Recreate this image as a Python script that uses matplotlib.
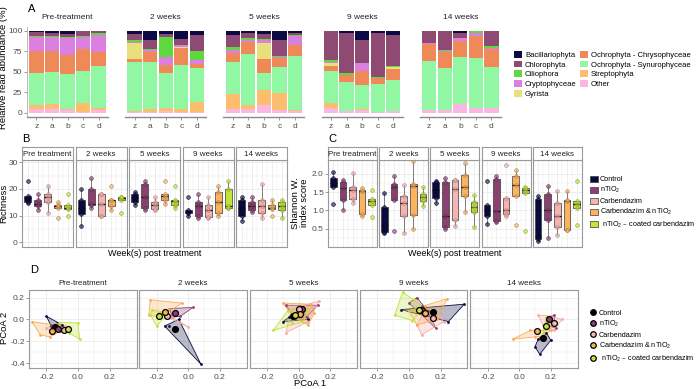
import matplotlib.pyplot as plt
from matplotlib.patches import Patch, Polygon
from matplotlib.lines import Line2D
from matplotlib.colors import to_rgba
import numpy as np

plt.rcParams['font.family'] = ['Liberation Sans', 'DejaVu Sans']
plt.rcParams['mathtext.default'] = 'regular'

W, H = 697, 389

# ---------- data: panel A (relative read abundance, %) ----------
weeks_a = ['Pre-treatment', '2 weeks', '5 weeks', '9 weeks', '14 weeks']
samples = ['z', 'a', 'b', 'c', 'd']
# 25 values each: 5 samples for every week, in weeks_a order
other = [5, 5, 4, 1.5, 3, 0.5, 0.5, 2, 0.5, 0.5, 5, 5, 9, 4, 2, 5.5, 2, 4, 1.5, 2.5, 4, 4, 11, 6.5, 6.5]
streptophyta = [4, 5.5, 1, 10.5, 3, 2, 4.5, 4, 4, 13, 17.5, 4, 18.5, 20.5, 2, 6.5, 0.5, 0.5, 0, 0, 0, 0, 0, 0, 0]
synurophyceae = [40, 39, 42, 39.5, 50.5, 59.5, 57, 42.5, 54, 40.5, 39.5, 63, 21.5, 31, 65,
                 39, 35, 29.5, 34, 38, 58.5, 50.5, 57, 60, 49]
chrysophyceae = [26, 26, 23.5, 26.5, 18, 3.5, 12, 10, 20, 6, 11, 14, 16, 11.5, 13.5,
                 6, 8.5, 16.5, 7.5, 12.5, 21.5, 20, 19, 27.5, 22.5]
gyrista = [0, 0, 0, 0, 0, 19, 0, 0, 1, 0, 0, 0, 20, 0, 0, 3.5, 0, 0, 0, 2.5, 0, 0, 0, 0, 0]
cryptophyceae = [17, 16.5, 20.5, 14, 20.5, 1.5, 2.5, 9.5, 2.5, 4, 4, 2.5, 4, 0.5, 11.5,
                 1.5, 0.5, 10, 0, 0, 0.5, 0.5, 4, 3, 1]
ciliophora = [2, 1, 1.5, 1, 2, 2, 1.5, 24, 0.5, 11, 3.5, 2.5, 1, 1.5, 1, 2, 2.5, 0, 1, 1.5, 0.5, 2, 0, 2, 2.5]
chlorophyta = [4, 4, 3.5, 6, 2, 8, 11, 4, 7.5, 20, 14, 6, 6, 19, 2, 35, 48, 27.5, 53, 38, 14, 22, 6, 0.5, 17.5]
bacillariophyta = [2, 3, 4, 1, 1, 4, 11, 4, 10, 5, 5.5, 3, 4, 12, 3, 1, 3, 12, 3, 5, 1, 1, 3, 0.5, 1]

taxa = ['Bacillariophyta', 'Chlorophyta', 'Ciliophora', 'Cryptophyceae', 'Gyrista',
        'Ochrophyta - Chrysophyceae', 'Ochrophyta - Synurophyceae', 'Streptophyta', 'Other']
taxa_vals = [bacillariophyta, chlorophyta, ciliophora, cryptophyceae, gyrista,
             chrysophyceae, synurophyceae, streptophyta, other]
taxa_cols = ['#0b0a45', '#8e4a72', '#5fd83f', '#db7fe0', '#e8e07a',
             '#ef8a58', '#91f7a2', '#fdbd6f', '#fbb6e4']

# ---------- data: panels B / C (5 replicates per group) ----------
weeks_b = ['Pre treatment', '2 weeks', '5 weeks', '9 weeks', '14 weeks']
treatments = ['Control', 'nTiO$_2$', 'Carbendazim', 'Carbendazim & nTiO$_2$', ' nTiO$_2$ – coated carbendazim']
treat_cols = ['#0b0a3f', '#8b4170', '#f7b3b0', '#fbb35e', '#c3e43a']

rich_control = [[14.8, 15, 16.8, 17.5, 23], [6, 10.5, 13, 16, 20], [14, 15, 16.5, 18, 19],
                [10, 11, 11.5, 12, 17], [8, 10, 13, 16, 17]]
rich_ntio2 = [[12, 13.5, 14.5, 16, 18], [13, 14, 14.5, 20, 24], [12, 13, 17, 22, 23],
              [9, 10, 13.5, 15, 18], [11.5, 12, 13.5, 15, 17]]
rich_carb = [[11, 15, 17, 18, 21], [10, 10, 14.5, 18, 18], [12, 12.5, 14, 15, 17],
             [9, 9.5, 12, 14, 17], [9, 11, 13.5, 16, 22]]
rich_carb_ntio2 = [[9, 12.8, 13.5, 14, 15], [12, 13.5, 15.8, 16, 21], [14.5, 16, 17.5, 18, 23],
                   [10, 11, 15, 19, 21], [10, 12.5, 13, 14, 16]]
rich_coated = [[10, 12.5, 13, 14, 18], [11, 16, 16.5, 17, 17], [13, 14, 15.5, 16, 21],
               [13, 13, 13.5, 20, 23], [9, 12, 13.5, 15, 16]]

shan_control = [[1.18, 1.65, 1.75, 1.9, 2.05], [0.38, 0.42, 0.6, 1.1, 1.48], [1.2, 1.35, 1.55, 1.78, 1.8],
                [0.63, 0.85, 1.0, 1.15, 1.8], [0.17, 0.22, 0.3, 1.32, 1.4]]
shan_ntio2 = [[1.0, 1.28, 1.62, 1.78, 1.82], [0.45, 1.28, 1.65, 1.72, 1.95], [0.5, 0.55, 0.85, 1.78, 1.88],
              [0.68, 0.7, 0.98, 1.86, 1.95], [0.24, 0.75, 1.0, 1.44, 1.68]]
shan_carb = [[1.2, 1.32, 1.55, 1.65, 2.02], [0.38, 0.85, 1.2, 1.4, 1.7], [0.57, 0.75, 1.58, 1.82, 1.84],
             [0.85, 0.89, 1.0, 1.33, 2.23], [0.33, 0.56, 0.86, 1.19, 1.52]]
shan_carb_ntio2 = [[0.85, 0.9, 1.53, 1.55, 1.62], [0.5, 0.88, 1.68, 1.72, 2.35], [0.95, 1.4, 1.65, 1.97, 2.3],
                   [0.59, 1.4, 1.7, 1.93, 2.11], [0.47, 0.47, 1.26, 1.28, 1.54]]
shan_coated = [[0.83, 1.15, 1.25, 1.3, 1.55], [1.12, 1.25, 1.38, 1.45, 1.65], [0.55, 0.95, 1.1, 1.22, 1.42],
               [0.45, 1.48, 1.56, 1.62, 1.65], [0.59, 1.06, 1.17, 1.26, 1.81]]

# ---------- data: panel D (PCoA scores) ----------
weeks_d = ['Pre-treatment', '2 weeks', '5 weeks', '9 weeks', '14 weeks']
ctrl_x = [[-0.20, -0.17, -0.12, -0.10, -0.13], [-0.15, -0.12, -0.06, 0.08, -0.09], [-0.10, -0.06, 0.06, 0.02, -0.03],
          [-0.05, 0.35, 0.25, 0.15, 0.10], [0.13, 0.10, 0.20, 0.17, 0.12]]
ctrl_y = [[0.03, -0.06, -0.08, -0.05, -0.03], [-0.06, -0.06, 0.00, -0.41, -0.08], [-0.02, 0.02, 0.00, 0.10, 0.05],
          [0.09, 0.14, -0.02, 0.05, 0.10], [-0.32, -0.25, -0.19, -0.12, -0.18]]
ntio_x = [[-0.17, -0.13, -0.09, -0.12, -0.15], [-0.12, 0.03, -0.05, -0.10, -0.08], [-0.08, 0.12, 0.05, -0.02, 0.00],
          [0.00, 0.05, 0.17, 0.12, 0.08], [0.22, 0.17, 0.23, 0.20, 0.18]]
ntio_y = [[-0.05, -0.04, -0.07, -0.11, -0.09], [0.10, 0.11, 0.03, 0.02, 0.08], [0.13, 0.13, 0.02, 0.00, 0.08],
          [0.15, 0.20, -0.08, 0.08, 0.12], [0.04, -0.05, -0.08, 0.00, 0.02]]
carb_x = [[-0.20, -0.14, -0.08, -0.10, -0.16], [-0.16, -0.10, 0.00, -0.14, -0.19], [-0.08, 0.13, 0.06, -0.05, 0.02],
          [0.08, 0.20, 0.10, 0.22, 0.05], [0.12, 0.27, 0.22, 0.15, 0.20]]
carb_y = [[-0.08, -0.04, -0.06, -0.11, -0.12], [0.07, 0.02, -0.07, 0.04, 0.06], [-0.12, 0.17, -0.02, 0.08, 0.12],
          [-0.14, 0.02, 0.08, -0.02, -0.05], [0.04, 0.00, -0.10, -0.05, 0.03]]
carbn_x = [[-0.29, -0.24, -0.18, -0.10, -0.15], [-0.24, -0.04, -0.25, -0.18, -0.12], [-0.10, 0.08, 0.06, -0.03, 0.10],
           [0.24, 0.05, 0.10, 0.18, 0.00], [-0.04, 0.07, 0.20, 0.16, 0.10]]
carbn_y = [[-0.02, -0.14, -0.16, -0.10, -0.05], [0.18, 0.15, 0.04, 0.02, 0.10], [0.15, 0.14, -0.05, 0.02, 0.06],
           [0.19, -0.05, 0.12, 0.00, 0.08], [-0.18, -0.10, -0.10, -0.15, -0.16]]
coat_x = [[-0.12, 0.00, 0.01, -0.06, -0.10], [-0.23, -0.20, -0.15, -0.17, -0.24], [-0.16, 0.06, -0.07, 0.03, -0.04],
          [-0.04, -0.09, 0.02, 0.10, 0.03], [0.17, 0.20, 0.15, 0.19, 0.16]]
coat_y = [[-0.03, -0.03, -0.18, -0.12, -0.09], [0.09, -0.06, 0.02, 0.07, 0.04], [-0.10, 0.10, 0.08, -0.02, -0.03],
          [0.25, 0.04, -0.01, 0.10, 0.18], [0.02, -0.02, -0.12, -0.08, -0.05]]
# group centroids per week
cent_x = [[-0.145, -0.085, -0.035, 0.15, 0.15], [-0.125, -0.085, 0.02, 0.08, 0.19], [-0.09, -0.135, 0.0, 0.15, 0.22],
          [-0.165, -0.15, 0.01, 0.10, 0.11], [-0.065, -0.185, -0.02, 0.065, 0.17]]
cent_y = [[-0.068, -0.086, 0.035, 0.07, -0.17], [-0.09, 0.057, 0.10, 0.09, 0.0], [-0.10, 0.03, 0.10, 0.015, -0.03],
          [-0.105, 0.07, 0.05, 0.06, -0.11], [-0.084, 0.035, 0.04, 0.085, -0.06]]
d_cols = ['#0b0a3f', '#8b4170', '#f6a9a6', '#fbab55', '#bfe23a']
d_legend_cols = ['#000000', '#8b4170', '#f7b8b4', '#f9b25a', '#c8e04a']

GRAY_TXT = '#4d4d4d'
GRID = '#ebebeb'
EDGE = '#9a9a9a'


def add_ax(fig, x, y, w, h):
    # x, y, w, h in pixels measured from the top-left corner
    return fig.add_axes([x / W, 1 - (y + h) / H, w / W, h / H])


def convex_hull(xs, ys):
    pts = sorted(set(zip(xs, ys)))
    if len(pts) < 3:
        return pts

    def cross(o, a, b):
        return (a[0] - o[0]) * (b[1] - o[1]) - (a[1] - o[1]) * (b[0] - o[0])
    lower, upper = [], []
    for p in pts:
        while len(lower) >= 2 and cross(lower[-2], lower[-1], p) <= 0:
            lower.pop()
        lower.append(p)
    for p in reversed(pts):
        while len(upper) >= 2 and cross(upper[-2], upper[-1], p) <= 0:
            upper.pop()
        upper.append(p)
    return lower[:-1] + upper[:-1]


def darken(c, f=0.65):
    r, g, b, a = to_rgba(c)
    return (r * f, g * f, b * f, 1)


fig = plt.figure(figsize=(W / 100, H / 100), dpi=100)

# ================= panel A =================
fig.text(28 / W, 1 - 12 / H, 'A', fontsize=8)
for k, week in enumerate(weeks_a):
    ax = add_ax(fig, 27 + k * 98.2, 26.5, 81, 90.5)
    x = np.arange(5)
    bottom = np.zeros(5)
    # stacked from the bottom (Other) up to the top (Bacillariophyta)
    for vals, col in zip(taxa_vals[::-1], taxa_cols[::-1]):
        v = np.array(vals[k * 5:(k + 1) * 5], dtype=float)
        ax.bar(x, v, bottom=bottom, width=0.92, color=col, linewidth=0)
        bottom += v
    ax.set_xlim(-0.6, 4.6)
    ax.set_ylim(-5, 105)
    for s in ['top', 'right', 'left']:
        ax.spines[s].set_visible(False)
    ax.spines['bottom'].set_color('#8a8a8a')
    ax.spines['bottom'].set_linewidth(1.0)
    ax.set_xticks(x)
    ax.set_xticklabels(samples)
    ax.tick_params(axis='x', length=2, width=0.6, color='#8a8a8a', labelsize=6, labelcolor=GRAY_TXT, pad=2)
    ax.set_yticks([0, 25, 50, 75, 100])
    if k == 0:
        ax.spines['left'].set_visible(True)
        ax.spines['left'].set_color('#b0b0b0')
        ax.spines['left'].set_linewidth(0.6)
        ax.tick_params(axis='y', length=2, width=0.6, color='#8a8a8a', labelsize=6, labelcolor=GRAY_TXT, pad=1.5)
    else:
        ax.tick_params(axis='y', left=False, labelleft=False)
    ax.text(0.5, 1.06, week, transform=ax.transAxes, ha='center', va='bottom', fontsize=6, color='#222222')

fig.text(4 / W, 1 - 68 / H, 'Relative read abundance (%)', rotation=90, ha='center', va='center', fontsize=6.8)
fig.legend([Patch(facecolor=c, linewidth=0) for c in taxa_cols], taxa, ncol=2,
           loc='upper left', bbox_to_anchor=(510 / W, 1 - 47 / H), frameon=False, fontsize=5.5,
           handlelength=1.1, handleheight=1.0, columnspacing=0.4, labelspacing=0.22, handletextpad=0.35,
           borderpad=0)


# ================= panels B and C =================
def box_panel(left0, step, width, groups, ylim, yticks, yminor, letter, ylabel, ylabel_x, xlabel_x):
    fig.text(left0 / W + 0.0, 1 - 142 / H, letter, fontsize=8)
    for k, week in enumerate(weeks_b):
        left = left0 + k * step
        ax = add_ax(fig, left, 160, width, 87)
        for j, (g, col) in enumerate(zip(groups, treat_cols)):
            vals = g[k]
            ax.boxplot([vals], positions=[j + 1], widths=0.7, patch_artist=True, showfliers=False,
                       medianprops=dict(color='#111111', linewidth=0.9),
                       boxprops=dict(facecolor=col, edgecolor='#3a3a3a', linewidth=0.5),
                       whiskerprops=dict(color='#6a6a6a', linewidth=0.6),
                       capprops=dict(linewidth=0))
            ax.plot(np.full(len(vals), j + 1.0), vals, 'o', ms=2.6, mfc=to_rgba(col, 0.55),
                    mec=darken(col, 0.75), mew=0.5, zorder=4)
        ax.set_xlim(0.45, 5.55)
        ax.set_ylim(*ylim)
        ax.set_xticks([1, 2, 3, 4, 5])
        ax.set_yticks(yticks)
        ax.set_yticks(yminor, minor=True)
        ax.set_xticks([1.5, 2.5, 3.5, 4.5], minor=True)
        ax.grid(True, which='major', color=GRID, linewidth=0.6)
        ax.grid(True, which='minor', color=GRID, linewidth=0.35)
        ax.set_axisbelow(True)
        ax.tick_params(axis='x', which='both', bottom=False, labelbottom=False)
        ax.tick_params(axis='y', which='minor', left=False)
        if k == 0:
            ax.tick_params(axis='y', length=2, width=0.6, color='#8a8a8a', labelsize=6, labelcolor=GRAY_TXT, pad=1)
        else:
            ax.tick_params(axis='y', left=False, labelleft=False)
        for s in ax.spines.values():
            s.set_color(EDGE)
            s.set_linewidth(0.8)
        # facet strip
        sx = add_ax(fig, left, 147, width, 13)
        sx.set_xticks([])
        sx.set_yticks([])
        sx.set_facecolor('white')
        for s in sx.spines.values():
            s.set_color(EDGE)
            s.set_linewidth(0.8)
        sx.text(0.5, 0.45, week, ha='center', va='center', fontsize=5.8, color='#222222', transform=sx.transAxes)
    fig.text(ylabel_x / W, 1 - 203 / H, ylabel, rotation=90, ha='center', va='center', fontsize=6.8,
             linespacing=1.0)
    fig.text(xlabel_x / W, 1 - 253 / H, 'Week(s) post treatment', ha='center', va='center', fontsize=6.5)


box_panel(22, 53.5, 51, [rich_control, rich_ntio2, rich_carb, rich_carb_ntio2, rich_coated],
          (-1.8, 30.9), [0, 10, 20, 30], [5, 15, 25], 'B', 'Richness', 4, 155)
box_panel(328, 51.2, 49, [shan_control, shan_ntio2, shan_carb, shan_carb_ntio2, shan_coated],
          (0.0, 2.38), [0.5, 1.0, 1.5, 2.0], [0.25, 0.75, 1.25, 1.75, 2.25], 'C',
          'Shannon W.\nindex score', 300, 455)

fig.legend([Patch(facecolor=c, edgecolor='#3a3a3a', linewidth=0.5) for c in treat_cols], treatments,
           loc='upper left', bbox_to_anchor=(586 / W, 1 - 172 / H), frameon=False, fontsize=5.2,
           handlelength=1.1, handleheight=0.9, labelspacing=0.3, handletextpad=0.3, borderpad=0)

# ================= panel D =================
fig.text(30 / W, 1 - 273 / H, 'D', fontsize=8)
xs_all = [ctrl_x, ntio_x, carb_x, carbn_x, coat_x]
ys_all = [ctrl_y, ntio_y, carb_y, carbn_y, coat_y]
for k, week in enumerate(weeks_d):
    ax = add_ax(fig, 29 + k * 110.3, 290, 107.5, 78)
    for xs, ys, col in zip(xs_all, ys_all, d_cols):
        hull = convex_hull(xs[k], ys[k])
        ax.add_patch(Polygon(hull, closed=True, facecolor=to_rgba(col, 0.28), edgecolor=col, linewidth=0.6))
        ax.plot(xs[k], ys[k], 'o', ms=2.0, color=col, mew=0, zorder=3)
    for cx, cy, col in zip(cent_x, cent_y, d_legend_cols):
        ax.plot(cx[k], cy[k], 'o', ms=4.2, mfc=col, mec='black', mew=0.9, zorder=5)
    ax.set_xlim(-0.31, 0.37)
    ax.set_ylim(-0.445, 0.27)
    ax.set_xticks([-0.2, 0.0, 0.2])
    ax.set_xticklabels(['-0.2', '0.0', '0.2'])
    ax.set_xticks([-0.3, -0.1, 0.1, 0.3], minor=True)
    ax.set_yticks([-0.4, -0.2, 0.0, 0.2])
    ax.set_yticklabels(['-0.4', '-0.2', '0.0', '0.2'])
    ax.set_yticks([-0.3, -0.1, 0.1], minor=True)
    ax.grid(True, which='major', color=GRID, linewidth=0.6)
    ax.grid(True, which='minor', color=GRID, linewidth=0.35)
    ax.set_axisbelow(True)
    ax.tick_params(which='minor', length=0)
    ax.tick_params(axis='x', length=2, width=0.6, color='#8a8a8a', labelsize=6, labelcolor=GRAY_TXT, pad=2)
    if k == 0:
        ax.tick_params(axis='y', length=2, width=0.6, color='#8a8a8a', labelsize=6, labelcolor=GRAY_TXT, pad=1)
    else:
        ax.tick_params(axis='y', left=False, labelleft=False)
    for s in ax.spines.values():
        s.set_color(EDGE)
        s.set_linewidth(0.8)
    ax.text(0.5, 1.04, week, transform=ax.transAxes, ha='center', va='bottom', fontsize=5.8, color='#222222')

fig.text(5 / W, 1 - 328 / H, 'PCoA 2', rotation=90, ha='center', va='center', fontsize=6.8)
fig.text(310 / W, 1 - 384 / H, 'PCoA 1', ha='center', va='center', fontsize=6.8)
fig.legend([Line2D([], [], marker='o', linestyle='', ms=4, mfc=c, mec='black', mew=0.9) for c in d_legend_cols],
           treatments, loc='upper left', bbox_to_anchor=(586 / W, 1 - 306 / H), frameon=False, fontsize=5.2,
           handlelength=1.0, labelspacing=0.32, handletextpad=0.3, borderpad=0)

fig.savefig('out.png', dpi=100)
